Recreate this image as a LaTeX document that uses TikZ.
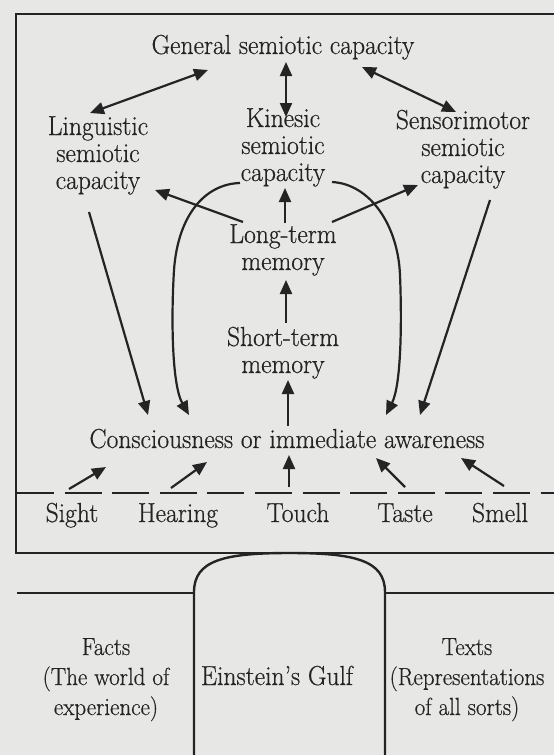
\documentclass[tikz,border=0pt]{standalone}
\usepackage{fontspec}
\setmainfont{Latin Modern Roman}[FakeStretch=0.93, FakeBold=0.5]
\usetikzlibrary{arrows.meta,calc}
\definecolor{paper}{RGB}{231,231,229}
\definecolor{ink}{RGB}{36,36,36}
\tikzset{
  lbl/.style={anchor=base, inner sep=0pt, align=center, text=ink,
    font=\fontsize{27.5}{27}\selectfont},
  lblb/.style={lbl, font=\fontsize{24.8}{30}\selectfont},
  tip/.style={-{Triangle[length=14pt,width=12pt]}},
  conn/.style={draw=ink, line width=2.2pt, tip},
  dconn/.style={draw=ink, line width=2.2pt,
    {Triangle[length=14pt,width=12pt]}-{Triangle[length=14pt,width=12pt]}},
  frame/.style={draw=ink, line width=2.4pt},
}
\begin{document}
\begin{tikzpicture}[x=1pt,y=-1pt]
\useasboundingbox (0,0) rectangle (554,755);
\clip (0,0) rectangle (554,755);
\fill[paper] (0,0) rectangle (554,755);

% outer frame and separators
\draw[frame] (16,14) rectangle (620,553);
\draw[ink, line width=2pt, dash pattern=on 37pt off 10.6pt] (17,493) -- (554,493);
\draw[frame] (17,593) -- (194,593);
\draw[frame] (385,593) -- (554,593);
\draw[frame] (194,760) -- (194,592) .. controls (194,560) and (225,553) .. (289.5,553)
  .. controls (354,553) and (385,560) .. (385,592) -- (385,760);

% nodes (base = baseline of the last line)
\node[lbl] (gen) at (283,54) {General semiotic capacity};
\node[lbl] (ling) at (98,189) {Linguistic\\semiotic\\capacity};
\node[lbl] (kin) at (283,181) {Kinesic\\semiotic\\capacity};
\node[lbl] (sens) at (463,183) {Sensorimotor\\semiotic\\capacity};
\node[lbl] (ltm) at (283,270) {Long-term\\memory};
\node[lbl] (stm) at (283,373) {Short-term\\memory};
\node[lbl] (cons) at (287,448) {Consciousness or immediate awareness};
\node[lbl] (sight) at (72,522) {Sight};
\node[lbl] (hearing) at (178,522) {Hearing};
\node[lbl] (touch) at (298,522) {Touch};
\node[lbl] (taste) at (405,522) {Taste};
\node[lbl] (smell) at (500,522) {Smell};
\node[lblb] (facts) at (106,715) {Facts\\(The world of\\experience)};
\node[lbl] (gulf) at (277,685) {Einstein’s Gulf};
\node[lblb] (texts) at (467,715) {Texts\\(Representations\\of all sorts)};

% double arrows from the general capacity
\draw[dconn] ($(gen.base)+(-75,16)$) -- ($(ling.base)+(-8,-76)$);
\draw[dconn] ($(gen.base)+(3,8)$) -- ($(kin.base)+(3,-64)$);
\draw[dconn] ($(gen.base)+(79,13)$) -- ($(sens.base)+(-7,-71)$);

% long-term memory to capacities
\draw[conn] ($(ltm.base)+(-40,-48)$) -- ($(ling.base)+(57,1)$);
\draw[conn] ($(ltm.base)+(2,-47)$) -- ($(kin.base)+(2,7)$);
\draw[conn] ($(ltm.base)+(49,-48)$) -- ($(sens.base)+(-45,2)$);

% memory chain
\draw[conn] ($(stm.base)+(3,-50)$) -- ($(ltm.base)+(3,10)$);
\draw[conn] ($(cons.base)+(1,-22)$) -- ($(stm.base)+(5,7)$);

% capacities down to consciousness
\draw[conn] ($(ling.base)+(-9,23)$) -- ($(cons.base)+(-139,-33)$);
\draw[conn] ($(kin.base)+(-43,2)$) .. controls (205,184) and (178,215) .. (174,270)
  .. controls (171,320) and (172,385) .. ($(cons.base)+(-98,-33)$);
\draw[conn] ($(kin.base)+(49,1)$) .. controls (370,184) and (398,225) .. (400,275)
  .. controls (402,325) and (401,385) .. ($(cons.base)+(99,-33)$);
\draw[conn] ($(sens.base)+(27,17)$) -- ($(cons.base)+(133,-33)$);

% senses up to consciousness
\draw[conn] ($(sight.base)+(-3,-33)$) -- ($(cons.base)+(-181,19)$);
\draw[conn] ($(hearing.base)+(-7,-34)$) -- ($(cons.base)+(-80,14)$);
\draw[conn] ($(touch.base)+(-9,-35)$) -- ($(cons.base)+(2,7)$);
\draw[conn] ($(taste.base)+(0,-35)$) -- ($(cons.base)+(89,10)$);
\draw[conn] ($(smell.base)+(4,-36)$) -- ($(cons.base)+(174,10)$);
\end{tikzpicture}
\end{document}
